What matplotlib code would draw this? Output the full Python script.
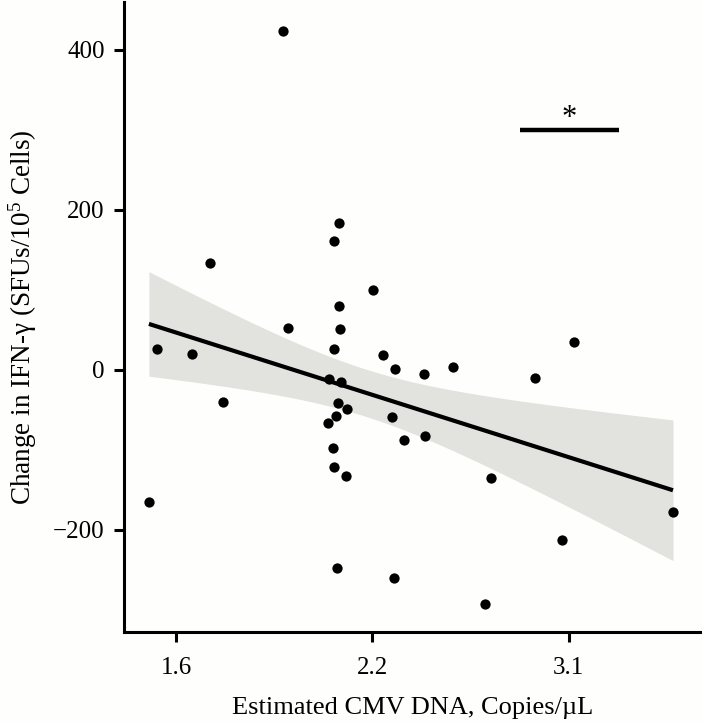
import numpy as np
import matplotlib
matplotlib.use("Agg")
import matplotlib.pyplot as plt

plt.rcParams['font.family'] = ['Liberation Serif', 'DejaVu Serif']
plt.rcParams['mathtext.fontset'] = 'custom'
plt.rcParams['mathtext.rm'] = 'Liberation Serif'
plt.rcParams['mathtext.it'] = 'Liberation Serif:italic'

# x positions on the (evenly spaced) axis scale: tick 1 = "1.6", 2 = "2.2", 3 = "3.1"
cmv_pos = [1.547, 1.830, 1.805, 1.175, 1.829, 1.573, 1.837, 1.806, 0.901, 1.080,
           2.005, 2.056, 2.116, 2.266, 1.779, 1.843, 1.827, 1.873, 1.813, 1.776,
           2.103, 2.163, 2.269, 1.798, 1.806, 1.865, 2.606, 1.822, 2.112, 2.575,
           1.237, 0.862, 3.026, 2.410, 2.831, 3.532, 2.966]
ifn_change = [424, 184, 161, 134, 80, 52, 51, 26, 26, 20,
              100, 19, 1, -5, -11, -15, -41, -49, -57, -66,
              -59, -88, -82, -98, -121, -133, -135, -248, -260, -292,
              -40, -165, 35, 4, -10, -177, -213]

x_tick_pos = [1, 2, 3]
x_tick_labels = ["1.6", "2.2", "3.1"]
y_ticks = [-200, 0, 200, 400]

sig_bar_x = [2.752, 3.255]
sig_bar_y = 300
sig_label = "*"

band_t = 1.38  # multiplier on the standard error of the fitted line

x = np.array(cmv_pos)
y = np.array(ifn_change)
n = len(x)
slope, intercept = np.polyfit(x, y, 1)
xs = np.linspace(x.min(), x.max(), 200)
ys = intercept + slope * xs
resid = y - (intercept + slope * x)
s = np.sqrt(np.sum(resid**2) / (n - 2))
xm = x.mean()
sxx = np.sum((x - xm) ** 2)
se = s * np.sqrt(1.0 / n + (xs - xm) ** 2 / sxx)

fig = plt.figure(figsize=(7.02, 7.23), dpi=100)
fig.patch.set_facecolor('#fefefc')
ax = fig.add_axes([124/702, (723-632)/723, (702-124)/702, (632-2)/723])
ax.set_facecolor('#fefefc')

ax.fill_between(xs, ys - band_t*se, ys + band_t*se, color='#e2e2df', lw=0, zorder=1)
ax.plot(xs, ys, color='black', lw=3.0, zorder=2, solid_capstyle='butt')
ax.plot(x, y, 'o', color='black', markersize=7.4, markeredgewidth=0, zorder=3)

ax.plot(sig_bar_x, [sig_bar_y, sig_bar_y], color='black', lw=3.2, solid_capstyle='butt')
ax.text(np.mean(sig_bar_x), sig_bar_y + 5, sig_label, ha='center', va='baseline', fontsize=22)

ax.set_xlim(0.735, 3.68)
ax.set_ylim(-327.5, 460)
ax.set_xticks(x_tick_pos)
ax.set_xticklabels(x_tick_labels)
ax.set_yticks(y_ticks)

for sp in ['top', 'right']:
    ax.spines[sp].set_visible(False)
for sp in ['left', 'bottom']:
    ax.spines[sp].set_linewidth(2.2)
ax.tick_params(axis='both', width=2.2, length=7, labelsize=18, colors='black')
ax.tick_params(axis='x', pad=11)
ax.tick_params(axis='y', pad=7)

ax.set_xlabel("Estimated CMV DNA, Copies/\u00b5L", fontsize=19, labelpad=13)
ax.set_ylabel("Change in IFN-\u03b3 (SFUs/10$^{5}$ Cells)", fontsize=19.5, labelpad=10)

fig.savefig("out.png", dpi=100, facecolor=fig.get_facecolor())
